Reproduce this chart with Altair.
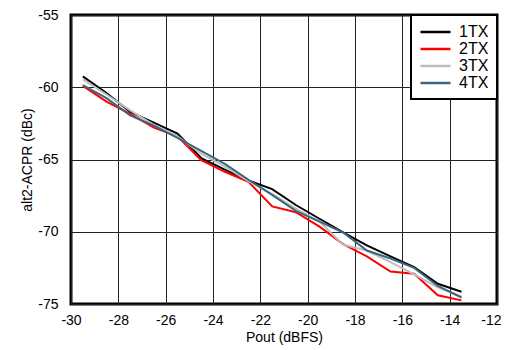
import altair as alt
import pandas as pd

pout = [-29.5, -28.5, -27.5, -26.5, -25.5, -24.5, -23.5, -22.5, -21.5, -20.5,
        -19.5, -18.5, -17.5, -16.5, -15.5, -14.5, -13.5]
tx1 = [-59.25, -60.4, -61.7, -62.45, -63.2, -64.9, -65.7, -66.45, -67.05, -68.15,
       -69.1, -70.05, -70.95, -71.7, -72.45, -73.6, -74.15]
tx2 = [-59.9, -61.0, -61.85, -62.8, -63.4, -65.05, -65.85, -66.55, -68.25, -68.65,
       -69.65, -70.85, -71.7, -72.75, -72.9, -74.4, -74.75]
tx3 = [-59.45, -60.5, -61.6, -62.6, -63.4, -64.6, -65.5, -66.5, -67.4, -68.4,
       -69.3, -70.9, -71.3, -72.1, -72.95, -73.85, -74.5]
tx4 = [-59.85, -60.75, -61.95, -62.65, -63.5, -64.4, -65.3, -66.4, -67.45, -68.55,
       -69.3, -70.05, -71.3, -71.85, -72.5, -73.75, -74.55]
series = ["1TX", "2TX", "3TX", "4TX"]
colors = ["#000000", "#ff0000", "#bdbdbd", "#3a6680"]

rows = []
for name, vals in zip(series, [tx1, tx2, tx3, tx4]):
    for i, (x, y) in enumerate(zip(pout, vals)):
        rows.append({"Pout": x, "ACPR": y, "Series": name, "order": i})
df = pd.DataFrame(rows)

font = "Liberation Sans"

chart = alt.Chart(df).mark_line(strokeWidth=2).encode(
    x=alt.X("Pout:Q", scale=alt.Scale(domain=[-30, -12], nice=False),
            axis=alt.Axis(values=list(range(-30, -11, 2)), title="Pout (dBFS)",
                          labelExpr="toString(datum.value)",
                          labelAlign={"condition": {"test": "datum.value == -12", "value": "right"},
                                      "value": "center"},
                          labelOffset={"condition": {"test": "datum.value == -12", "value": 4},
                                       "value": 0},
                          grid=True, gridColor="#222222", gridWidth=1,
                          ticks=False, domain=False, labelPadding=9, labelFlush=False,
                          labelFontSize=14, titleFontSize=14, titlePadding=3,
                          labelFont=font, titleFont=font, titleFontWeight="normal",
                          labelColor="black", titleColor="black")),
    y=alt.Y("ACPR:Q", scale=alt.Scale(domain=[-75, -55], nice=False),
            axis=alt.Axis(values=[-75, -70, -65, -60, -55], title="alt2-ACPR (dBc)",
                          labelExpr="toString(datum.value)",
                          grid=True, gridColor="#222222", gridWidth=1,
                          ticks=False, domain=False, labelPadding=13, labelFlush=False,
                          labelFontSize=14, titleFontSize=14, titlePadding=3,
                          labelFont=font, titleFont=font, titleFontWeight="normal",
                          labelColor="black", titleColor="black")),
    color=alt.Color("Series:N", scale=alt.Scale(domain=series, range=colors),
                    legend=alt.Legend(title=None, orient="top-right", offset=0,
                                      symbolType="M-1,0L3,0", symbolStrokeWidth=2.5,
                                      symbolSize=225, labelFontSize=16, labelFont=font,
                                      labelColor="black",
                                      strokeColor="black", fillColor="white",
                                      padding=8, rowPadding=0,
                                      labelOffset=22)),
    order="order:Q",
).properties(
    width=426, height=289,
    autosize=alt.AutoSizeParams(type="none"),
    padding={"left": 63, "top": 7, "right": 4, "bottom": 41},
).configure_view(
    stroke="black", strokeWidth=3
).configure_legend(
    strokeWidth=2
)

chart.save("out.html", embed_options={"renderer": "svg", "actions": False})
